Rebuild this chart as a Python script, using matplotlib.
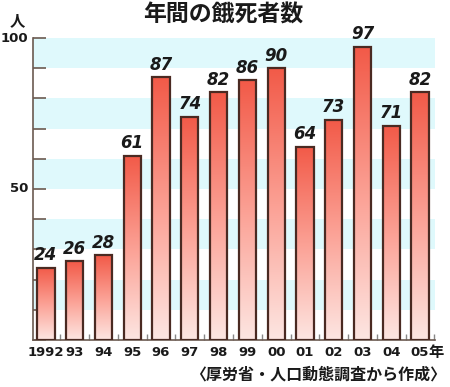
import matplotlib
matplotlib.use("Agg")
import matplotlib.pyplot as plt
import matplotlib.transforms as mtransforms
import numpy as np
from matplotlib.colors import LinearSegmentedColormap

plt.rcParams['font.family'] = ['Noto Sans CJK JP', 'DejaVu Sans']

years = ["1992", "93", "94", "95", "96", "97", "98", "99", "00", "01", "02", "03", "04", "05"]
values = [24, 26, 28, 61, 87, 74, 82, 86, 90, 64, 73, 97, 71, 82]
title = "年間の餓死者数"
unit = "人"
source = "〈厚労省・人口動態調査から作成〉"

fig = plt.figure(figsize=(4.5, 3.87), dpi=100)
ax = fig.add_axes([33/450, 47/387, 402/450, 302/387])

n = len(values)
x = np.arange(n)

# bands
for lo in range(10, 100, 20):
    ax.axhspan(lo, lo + 10, color="#dff9fc", lw=0, zorder=0)

cmap = LinearSegmentedColormap.from_list("g", ["#fde6e2", "#fba094", "#f25a48"])
grad = np.linspace(0, 1, 256).reshape(-1, 1)
bars = ax.bar(x, values, width=0.6, facecolor="none", edgecolor="#4a2a22", lw=1.6, zorder=3)
for b, v in zip(bars, values):
    x0 = b.get_x()
    im = ax.imshow(grad, extent=[x0, x0 + b.get_width(), 0, v], origin="lower",
                   aspect="auto", cmap=cmap, zorder=2)
    im.set_clip_path(b)
    ax.text(b.get_x() + b.get_width()/2, v + 1.2, str(v), ha="center", va="bottom",
            fontsize=12, fontweight="bold", style="italic", family="DejaVu Sans",
            color="#1a1a1a", zorder=4)
ax.set_xlim(-0.45, n - 1 + 0.52)
ax.set_ylim(0, 100)

for s in ["top", "right"]:
    ax.spines[s].set_visible(False)
for s in ["left", "bottom"]:
    ax.spines[s].set_color("#6b5a50")
    ax.spines[s].set_linewidth(1.2)

ax.set_yticks(np.arange(0, 101, 10))
ax.set_yticklabels([])
ax.tick_params(axis="y", direction="in", length=9, color="#6b5a50", width=1.2)
ax.set_xticks(x)
ax.set_xticklabels([])
ax.tick_params(axis="x", length=0)
ax.set_xticks(x + 0.5, minor=True)
ax.tick_params(axis="x", which="minor", direction="in", length=4, color="#888888", width=1)

trx = mtransforms.blended_transform_factory(ax.transData, fig.transFigure)
ylab = 1 - 352/387
for i, lab in enumerate(years):
    ax.text(i, ylab, lab, ha="center", va="center", fontsize=9.5, fontweight="bold",
            family="DejaVu Sans", color="#1a1a1a", clip_on=False, transform=trx)
ax.text(n - 1 + 0.3, ylab, "年", ha="left", va="center", fontsize=11, fontweight="bold",
        color="#1a1a1a", clip_on=False, transform=trx)

tr = mtransforms.blended_transform_factory(ax.transAxes, ax.transData)
ax.text(-0.012, 100, "100", ha="right", va="center", fontsize=9.5, fontweight="bold",
        family="DejaVu Sans", color="#1a1a1a", clip_on=False, transform=tr)
ax.text(-0.012, 50, "50", ha="right", va="center", fontsize=9.5, fontweight="bold",
        family="DejaVu Sans", color="#1a1a1a", clip_on=False, transform=tr)
fig.text(17/450, 1 - 20/387, unit, ha="center", va="center", fontsize=11, fontweight="bold", color="#1a1a1a")
fig.text(223/450, 1 - 15/387, title, ha="center", va="center", fontsize=16.5, fontweight="bold", color="#1a1a1a")
fig.text(446/450, 1 - 375/387, source, ha="right", va="center", fontsize=11.5, fontweight="bold", color="#1a1a1a")

fig.savefig("out.png", dpi=100)
